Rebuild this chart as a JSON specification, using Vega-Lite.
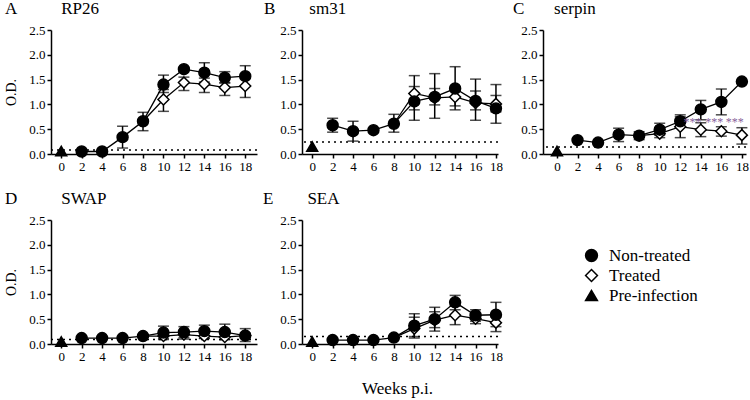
{
  "$schema": "https://vega.github.io/schema/vega-lite/v6.json",
  "padding": {"left": 4, "top": 0, "right": 5, "bottom": 3},
  "datasets": {
    "pts": [
      {"panel":"A","group":"Treated","week":8,"od":0.66},
      {"panel":"A","group":"Treated","week":10,"od":1.10,"lo":0.86,"hi":1.30},
      {"panel":"A","group":"Treated","week":12,"od":1.44,"lo":1.28,"hi":1.55},
      {"panel":"A","group":"Treated","week":14,"od":1.41,"lo":1.24,"hi":1.53},
      {"panel":"A","group":"Treated","week":16,"od":1.34,"lo":1.18,"hi":1.44},
      {"panel":"A","group":"Treated","week":18,"od":1.37,"lo":1.14,"hi":1.54},
      {"panel":"A","group":"Non-treated","week":2,"od":0.05},
      {"panel":"A","group":"Non-treated","week":4,"od":0.05},
      {"panel":"A","group":"Non-treated","week":6,"od":0.34,"lo":0.12,"hi":0.56},
      {"panel":"A","group":"Non-treated","week":8,"od":0.66,"lo":0.47,"hi":0.84},
      {"panel":"A","group":"Non-treated","week":10,"od":1.40,"lo":1.24,"hi":1.59},
      {"panel":"A","group":"Non-treated","week":12,"od":1.71},
      {"panel":"A","group":"Non-treated","week":14,"od":1.64,"lo":1.45,"hi":1.84},
      {"panel":"A","group":"Non-treated","week":16,"od":1.54,"lo":1.43,"hi":1.66},
      {"panel":"A","group":"Non-treated","week":18,"od":1.57,"lo":1.37,"hi":1.78},
      {"panel":"A","group":"Pre-infection","week":0,"od":0.06},

      {"panel":"B","group":"Treated","week":8,"od":0.61},
      {"panel":"B","group":"Treated","week":10,"od":1.22,"lo":0.89,"hi":1.58},
      {"panel":"B","group":"Treated","week":12,"od":1.13,"lo":0.99,"hi":1.32},
      {"panel":"B","group":"Treated","week":14,"od":1.15,"lo":0.97,"hi":1.32},
      {"panel":"B","group":"Treated","week":16,"od":1.03,"lo":0.89,"hi":1.27},
      {"panel":"B","group":"Treated","week":18,"od":1.01,"lo":0.85,"hi":1.18},
      {"panel":"B","group":"Non-treated","week":2,"od":0.58,"lo":0.44,"hi":0.72},
      {"panel":"B","group":"Non-treated","week":4,"od":0.46,"lo":0.26,"hi":0.66},
      {"panel":"B","group":"Non-treated","week":6,"od":0.48},
      {"panel":"B","group":"Non-treated","week":8,"od":0.61,"lo":0.44,"hi":0.80},
      {"panel":"B","group":"Non-treated","week":10,"od":1.06,"lo":0.68,"hi":1.36},
      {"panel":"B","group":"Non-treated","week":12,"od":1.15,"lo":0.72,"hi":1.62},
      {"panel":"B","group":"Non-treated","week":14,"od":1.32,"lo":0.89,"hi":1.76},
      {"panel":"B","group":"Non-treated","week":16,"od":1.07,"lo":0.68,"hi":1.51},
      {"panel":"B","group":"Non-treated","week":18,"od":0.92,"lo":0.62,"hi":1.40},
      {"panel":"B","group":"Pre-infection","week":0,"od":0.15},

      {"panel":"C","group":"Treated","week":8,"od":0.37},
      {"panel":"C","group":"Treated","week":10,"od":0.41,"lo":0.33,"hi":0.52},
      {"panel":"C","group":"Treated","week":12,"od":0.55,"lo":0.33,"hi":0.79},
      {"panel":"C","group":"Treated","week":14,"od":0.49,"lo":0.35,"hi":0.63},
      {"panel":"C","group":"Treated","week":16,"od":0.46,"lo":0.36,"hi":0.55},
      {"panel":"C","group":"Treated","week":18,"od":0.38,"lo":0.20,"hi":0.53},
      {"panel":"C","group":"Non-treated","week":2,"od":0.28},
      {"panel":"C","group":"Non-treated","week":4,"od":0.23},
      {"panel":"C","group":"Non-treated","week":6,"od":0.39,"lo":0.25,"hi":0.52},
      {"panel":"C","group":"Non-treated","week":8,"od":0.37,"lo":0.29,"hi":0.45},
      {"panel":"C","group":"Non-treated","week":10,"od":0.49,"lo":0.38,"hi":0.62},
      {"panel":"C","group":"Non-treated","week":12,"od":0.66,"lo":0.55,"hi":0.75},
      {"panel":"C","group":"Non-treated","week":14,"od":0.90,"lo":0.69,"hi":1.08},
      {"panel":"C","group":"Non-treated","week":16,"od":1.05,"lo":0.79,"hi":1.31},
      {"panel":"C","group":"Non-treated","week":18,"od":1.46},
      {"panel":"C","group":"Pre-infection","week":0,"od":0.06},

      {"panel":"D","group":"Treated","week":8,"od":0.16},
      {"panel":"D","group":"Treated","week":10,"od":0.16,"lo":0.11,"hi":0.22},
      {"panel":"D","group":"Treated","week":12,"od":0.19,"lo":0.13,"hi":0.25},
      {"panel":"D","group":"Treated","week":14,"od":0.16,"lo":0.11,"hi":0.22},
      {"panel":"D","group":"Treated","week":16,"od":0.14,"lo":0.09,"hi":0.20},
      {"panel":"D","group":"Treated","week":18,"od":0.17,"lo":0.12,"hi":0.22},
      {"panel":"D","group":"Non-treated","week":2,"od":0.12},
      {"panel":"D","group":"Non-treated","week":4,"od":0.12},
      {"panel":"D","group":"Non-treated","week":6,"od":0.12},
      {"panel":"D","group":"Non-treated","week":8,"od":0.16},
      {"panel":"D","group":"Non-treated","week":10,"od":0.23,"lo":0.09,"hi":0.36},
      {"panel":"D","group":"Non-treated","week":12,"od":0.24,"lo":0.10,"hi":0.35},
      {"panel":"D","group":"Non-treated","week":14,"od":0.26,"lo":0.12,"hi":0.38},
      {"panel":"D","group":"Non-treated","week":16,"od":0.24,"lo":0.09,"hi":0.40},
      {"panel":"D","group":"Non-treated","week":18,"od":0.17,"lo":0.05,"hi":0.31},
      {"panel":"D","group":"Pre-infection","week":0,"od":0.05},

      {"panel":"E","group":"Treated","week":8,"od":0.13},
      {"panel":"E","group":"Treated","week":10,"od":0.31,"lo":0.12,"hi":0.54},
      {"panel":"E","group":"Treated","week":12,"od":0.48,"lo":0.33,"hi":0.65},
      {"panel":"E","group":"Treated","week":14,"od":0.58,"lo":0.39,"hi":0.77},
      {"panel":"E","group":"Treated","week":16,"od":0.51,"lo":0.41,"hi":0.61},
      {"panel":"E","group":"Treated","week":18,"od":0.43,"lo":0.25,"hi":0.54},
      {"panel":"E","group":"Non-treated","week":2,"od":0.08},
      {"panel":"E","group":"Non-treated","week":4,"od":0.08},
      {"panel":"E","group":"Non-treated","week":6,"od":0.08},
      {"panel":"E","group":"Non-treated","week":8,"od":0.13},
      {"panel":"E","group":"Non-treated","week":10,"od":0.37,"lo":0.15,"hi":0.61},
      {"panel":"E","group":"Non-treated","week":12,"od":0.50,"lo":0.26,"hi":0.74},
      {"panel":"E","group":"Non-treated","week":14,"od":0.84,"lo":0.69,"hi":0.98},
      {"panel":"E","group":"Non-treated","week":16,"od":0.58,"lo":0.46,"hi":0.69},
      {"panel":"E","group":"Non-treated","week":18,"od":0.59,"lo":0.35,"hi":0.84},
      {"panel":"E","group":"Pre-infection","week":0,"od":0.05}
    ],
    "ref": [
      {"panel":"A","od":0.08},
      {"panel":"B","od":0.24},
      {"panel":"C","od":0.14},
      {"panel":"D","od":0.09},
      {"panel":"E","od":0.15}
    ],
    "stars": [
      {"week":13.2,"od":0.64,"label":"***"},
      {"week":15.3,"od":0.64,"label":"***"},
      {"week":17.3,"od":0.64,"label":"***"}
    ]
  },
  "title": {"text": "Weeks p.i.", "orient": "bottom", "anchor": "middle", "frame": "bounds", "dx": 20, "offset": 18, "fontSize": 17},
  "spacing": 17,
  "resolve": {"scale": {"shape": "shared", "fill": "shared", "stroke": "shared"}},
  "vconcat": [
    {
      "hconcat": [
        {
          "width": 206, "height": 124,
          "title": {"text": "A\u2003\u2003\u2002\u200aRP26", "dx": -46},
          "data": {"name": "pts"},
          "layer": [
            {"data": {"name": "ref"}, "transform": [{"filter": "datum.panel=='A'"}],
             "mark": {"type": "rule", "strokeDash": [2, 4], "strokeWidth": 1.5, "color": "black"},
             "encoding": {"y": {"field": "od", "type": "quantitative", "title": "O.D.", "scale": {"domain": [0, 2.5], "nice": false}, "axis": {"values": [0, 0.5, 1, 1.5, 2, 2.5], "tickCount": 6, "format": ".1f", "title": "O.D.", "labelOverlap": false}}}},
            {"transform": [{"filter": "datum.panel=='A' && datum.group!='Pre-infection'"}],
             "mark": {"type": "line", "color": "black", "strokeWidth": 1.3},
             "encoding": {"x": {"field": "week", "type": "quantitative", "scale": {"domain": [-1, 19.15], "nice": false, "zero": false}, "axis": {"values": [0, 2, 4, 6, 8, 10, 12, 14, 16, 18], "title": null, "labelOverlap": false}},
               "y": {"field": "od", "type": "quantitative", "title": "O.D.", "scale": {"domain": [0, 2.5], "nice": false}, "axis": {"values": [0, 0.5, 1, 1.5, 2, 2.5], "tickCount": 6, "format": ".1f", "title": "O.D.", "labelOverlap": false}}, "detail": {"field": "group"}}},
            {"transform": [{"filter": "datum.panel=='A' && isValid(datum.lo)"}],
             "mark": {"type": "errorbar", "ticks": true, "size": 11, "thickness": 1.5, "color": "black"},
             "encoding": {"x": {"field": "week", "type": "quantitative", "scale": {"domain": [-1, 19.15], "nice": false, "zero": false}, "axis": {"values": [0, 2, 4, 6, 8, 10, 12, 14, 16, 18], "title": null, "labelOverlap": false}},
               "y": {"field": "lo", "type": "quantitative", "title": "O.D.", "scale": {"domain": [0, 2.5], "nice": false}, "axis": {"values": [0, 0.5, 1, 1.5, 2, 2.5], "tickCount": 6, "format": ".1f", "title": "O.D.", "labelOverlap": false}}, "y2": {"field": "hi"}}},
            {"transform": [{"filter": "datum.panel=='A' && (datum.group!='Treated' || datum.week>=10)"}],
             "mark": {"type": "point", "filled": true, "strokeWidth": 1.5, "size": 120, "opacity": 1},
             "encoding": {"x": {"field": "week", "type": "quantitative", "scale": {"domain": [-1, 19.15], "nice": false, "zero": false}, "axis": {"values": [0, 2, 4, 6, 8, 10, 12, 14, 16, 18], "title": null, "labelOverlap": false}},
               "y": {"field": "od", "type": "quantitative", "title": "O.D.", "scale": {"domain": [0, 2.5], "nice": false}, "axis": {"values": [0, 0.5, 1, 1.5, 2, 2.5], "tickCount": 6, "format": ".1f", "title": "O.D.", "labelOverlap": false}},
               "shape": {"field": "group", "type": "nominal", "scale": {"domain": ["Non-treated", "Treated", "Pre-infection"], "range": ["circle", "diamond", "triangle-up"]}},
               "fill": {"field": "group", "type": "nominal", "scale": {"domain": ["Non-treated", "Treated", "Pre-infection"], "range": ["black", "white", "black"]}},
               "stroke": {"field": "group", "type": "nominal", "scale": {"domain": ["Non-treated", "Treated", "Pre-infection"], "range": ["black", "black", "black"]}}}}
          ]
        },
        {
          "width": 196, "height": 124,
          "title": {"text": "B\u2003\u2002\u00a0\u00a0sm31", "dx": -38},
          "data": {"name": "pts"},
          "layer": [
            {"data": {"name": "ref"}, "transform": [{"filter": "datum.panel=='B'"}],
             "mark": {"type": "rule", "strokeDash": [2, 4], "strokeWidth": 1.5, "color": "black"},
             "encoding": {"y": {"field": "od", "type": "quantitative", "title": null, "scale": {"domain": [0, 2.5], "nice": false}, "axis": {"values": [0, 0.5, 1, 1.5, 2, 2.5], "tickCount": 6, "format": ".1f", "title": null, "labelOverlap": false}}}},
            {"transform": [{"filter": "datum.panel=='B' && datum.group!='Pre-infection'"}],
             "mark": {"type": "line", "color": "black", "strokeWidth": 1.3},
             "encoding": {"x": {"field": "week", "type": "quantitative", "scale": {"domain": [-1, 18.2], "nice": false, "zero": false}, "axis": {"values": [0, 2, 4, 6, 8, 10, 12, 14, 16, 18], "title": null, "labelOverlap": false}},
               "y": {"field": "od", "type": "quantitative", "title": null, "scale": {"domain": [0, 2.5], "nice": false}, "axis": {"values": [0, 0.5, 1, 1.5, 2, 2.5], "tickCount": 6, "format": ".1f", "title": null, "labelOverlap": false}}, "detail": {"field": "group"}}},
            {"transform": [{"filter": "datum.panel=='B' && isValid(datum.lo)"}],
             "mark": {"type": "errorbar", "ticks": true, "size": 11, "thickness": 1.5, "color": "black"},
             "encoding": {"x": {"field": "week", "type": "quantitative", "scale": {"domain": [-1, 18.2], "nice": false, "zero": false}, "axis": {"values": [0, 2, 4, 6, 8, 10, 12, 14, 16, 18], "title": null, "labelOverlap": false}},
               "y": {"field": "lo", "type": "quantitative", "title": null, "scale": {"domain": [0, 2.5], "nice": false}, "axis": {"values": [0, 0.5, 1, 1.5, 2, 2.5], "tickCount": 6, "format": ".1f", "title": null, "labelOverlap": false}}, "y2": {"field": "hi"}}},
            {"transform": [{"filter": "datum.panel=='B' && (datum.group!='Treated' || datum.week>=10)"}],
             "mark": {"type": "point", "filled": true, "strokeWidth": 1.5, "size": 120, "opacity": 1},
             "encoding": {"x": {"field": "week", "type": "quantitative", "scale": {"domain": [-1, 18.2], "nice": false, "zero": false}, "axis": {"values": [0, 2, 4, 6, 8, 10, 12, 14, 16, 18], "title": null, "labelOverlap": false}},
               "y": {"field": "od", "type": "quantitative", "title": null, "scale": {"domain": [0, 2.5], "nice": false}, "axis": {"values": [0, 0.5, 1, 1.5, 2, 2.5], "tickCount": 6, "format": ".1f", "title": null, "labelOverlap": false}},
               "shape": {"field": "group", "type": "nominal"},
               "fill": {"field": "group", "type": "nominal"},
               "stroke": {"field": "group", "type": "nominal"}}}
          ]
        },
        {
          "width": 203, "height": 124,
          "title": {"text": "C\u2003\u2002\u00a0serpin", "dx": -30},
          "data": {"name": "pts"},
          "layer": [
            {"data": {"name": "ref"}, "transform": [{"filter": "datum.panel=='C'"}],
             "mark": {"type": "rule", "strokeDash": [2, 4], "strokeWidth": 1.5, "color": "black"},
             "encoding": {"y": {"field": "od", "type": "quantitative", "title": null, "scale": {"domain": [0, 2.5], "nice": false}, "axis": {"values": [0, 0.5, 1, 1.5, 2, 2.5], "tickCount": 6, "format": ".1f", "title": null, "labelOverlap": false}}}},
            {"transform": [{"filter": "datum.panel=='C' && datum.group!='Pre-infection'"}],
             "mark": {"type": "line", "color": "black", "strokeWidth": 1.3},
             "encoding": {"x": {"field": "week", "type": "quantitative", "scale": {"domain": [-1.36, 18.4], "nice": false, "zero": false}, "axis": {"values": [0, 2, 4, 6, 8, 10, 12, 14, 16, 18], "title": null, "labelOverlap": false}},
               "y": {"field": "od", "type": "quantitative", "title": null, "scale": {"domain": [0, 2.5], "nice": false}, "axis": {"values": [0, 0.5, 1, 1.5, 2, 2.5], "tickCount": 6, "format": ".1f", "title": null, "labelOverlap": false}}, "detail": {"field": "group"}}},
            {"transform": [{"filter": "datum.panel=='C' && isValid(datum.lo)"}],
             "mark": {"type": "errorbar", "ticks": true, "size": 11, "thickness": 1.5, "color": "black"},
             "encoding": {"x": {"field": "week", "type": "quantitative", "scale": {"domain": [-1.36, 18.4], "nice": false, "zero": false}, "axis": {"values": [0, 2, 4, 6, 8, 10, 12, 14, 16, 18], "title": null, "labelOverlap": false}},
               "y": {"field": "lo", "type": "quantitative", "title": null, "scale": {"domain": [0, 2.5], "nice": false}, "axis": {"values": [0, 0.5, 1, 1.5, 2, 2.5], "tickCount": 6, "format": ".1f", "title": null, "labelOverlap": false}}, "y2": {"field": "hi"}}},
            {"transform": [{"filter": "datum.panel=='C' && (datum.group!='Treated' || datum.week>=10)"}],
             "mark": {"type": "point", "filled": true, "strokeWidth": 1.5, "size": 120, "opacity": 1},
             "encoding": {"x": {"field": "week", "type": "quantitative", "scale": {"domain": [-1.36, 18.4], "nice": false, "zero": false}, "axis": {"values": [0, 2, 4, 6, 8, 10, 12, 14, 16, 18], "title": null, "labelOverlap": false}},
               "y": {"field": "od", "type": "quantitative", "title": null, "scale": {"domain": [0, 2.5], "nice": false}, "axis": {"values": [0, 0.5, 1, 1.5, 2, 2.5], "tickCount": 6, "format": ".1f", "title": null, "labelOverlap": false}},
               "shape": {"field": "group", "type": "nominal"},
               "fill": {"field": "group", "type": "nominal"},
               "stroke": {"field": "group", "type": "nominal"}}},
            {"data": {"name": "stars"},
             "mark": {"type": "text", "color": "#86609a", "fontSize": 12, "baseline": "middle"},
             "encoding": {"x": {"field": "week", "type": "quantitative", "scale": {"domain": [-1.36, 18.4], "nice": false, "zero": false}, "axis": {"values": [0, 2, 4, 6, 8, 10, 12, 14, 16, 18], "title": null, "labelOverlap": false}},
               "y": {"field": "od", "type": "quantitative", "title": null, "scale": {"domain": [0, 2.5], "nice": false}, "axis": {"values": [0, 0.5, 1, 1.5, 2, 2.5], "tickCount": 6, "format": ".1f", "title": null, "labelOverlap": false}}, "text": {"field": "label"}}}
          ]
        }
      ],
      "spacing": 45,
      "bounds": "flush"
    },
    {
      "hconcat": [
        {
          "width": 206, "height": 124,
          "title": {"text": "D\u2003\u2003\u2002\u200aSWAP", "dx": -46},
          "data": {"name": "pts"},
          "layer": [
            {"data": {"name": "ref"}, "transform": [{"filter": "datum.panel=='D'"}],
             "mark": {"type": "rule", "strokeDash": [2, 4], "strokeWidth": 1.5, "color": "black"},
             "encoding": {"y": {"field": "od", "type": "quantitative", "title": "O.D.", "scale": {"domain": [0, 2.5], "nice": false}, "axis": {"values": [0, 0.5, 1, 1.5, 2, 2.5], "tickCount": 6, "format": ".1f", "title": "O.D.", "labelOverlap": false}}}},
            {"transform": [{"filter": "datum.panel=='D' && datum.group!='Pre-infection'"}],
             "mark": {"type": "line", "color": "black", "strokeWidth": 1.3},
             "encoding": {"x": {"field": "week", "type": "quantitative", "scale": {"domain": [-1, 19.15], "nice": false, "zero": false}, "axis": {"values": [0, 2, 4, 6, 8, 10, 12, 14, 16, 18], "title": null, "labelOverlap": false}},
               "y": {"field": "od", "type": "quantitative", "title": "O.D.", "scale": {"domain": [0, 2.5], "nice": false}, "axis": {"values": [0, 0.5, 1, 1.5, 2, 2.5], "tickCount": 6, "format": ".1f", "title": "O.D.", "labelOverlap": false}}, "detail": {"field": "group"}}},
            {"transform": [{"filter": "datum.panel=='D' && isValid(datum.lo)"}],
             "mark": {"type": "errorbar", "ticks": true, "size": 11, "thickness": 1.5, "color": "black"},
             "encoding": {"x": {"field": "week", "type": "quantitative", "scale": {"domain": [-1, 19.15], "nice": false, "zero": false}, "axis": {"values": [0, 2, 4, 6, 8, 10, 12, 14, 16, 18], "title": null, "labelOverlap": false}},
               "y": {"field": "lo", "type": "quantitative", "title": "O.D.", "scale": {"domain": [0, 2.5], "nice": false}, "axis": {"values": [0, 0.5, 1, 1.5, 2, 2.5], "tickCount": 6, "format": ".1f", "title": "O.D.", "labelOverlap": false}}, "y2": {"field": "hi"}}},
            {"transform": [{"filter": "datum.panel=='D' && (datum.group!='Treated' || datum.week>=10)"}],
             "mark": {"type": "point", "filled": true, "strokeWidth": 1.5, "size": 120, "opacity": 1},
             "encoding": {"x": {"field": "week", "type": "quantitative", "scale": {"domain": [-1, 19.15], "nice": false, "zero": false}, "axis": {"values": [0, 2, 4, 6, 8, 10, 12, 14, 16, 18], "title": null, "labelOverlap": false}},
               "y": {"field": "od", "type": "quantitative", "title": "O.D.", "scale": {"domain": [0, 2.5], "nice": false}, "axis": {"values": [0, 0.5, 1, 1.5, 2, 2.5], "tickCount": 6, "format": ".1f", "title": "O.D.", "labelOverlap": false}},
               "shape": {"field": "group", "type": "nominal"},
               "fill": {"field": "group", "type": "nominal"},
               "stroke": {"field": "group", "type": "nominal"}}}
          ]
        },
        {
          "width": 196, "height": 124,
          "title": {"text": "E\u2003\u2002\u00a0\u00a0SEA", "dx": -39},
          "data": {"name": "pts"},
          "layer": [
            {"data": {"name": "ref"}, "transform": [{"filter": "datum.panel=='E'"}],
             "mark": {"type": "rule", "strokeDash": [2, 4], "strokeWidth": 1.5, "color": "black"},
             "encoding": {"y": {"field": "od", "type": "quantitative", "title": null, "scale": {"domain": [0, 2.5], "nice": false}, "axis": {"values": [0, 0.5, 1, 1.5, 2, 2.5], "tickCount": 6, "format": ".1f", "title": null, "labelOverlap": false}}}},
            {"transform": [{"filter": "datum.panel=='E' && datum.group!='Pre-infection'"}],
             "mark": {"type": "line", "color": "black", "strokeWidth": 1.3},
             "encoding": {"x": {"field": "week", "type": "quantitative", "scale": {"domain": [-1, 18.2], "nice": false, "zero": false}, "axis": {"values": [0, 2, 4, 6, 8, 10, 12, 14, 16, 18], "title": null, "labelOverlap": false}},
               "y": {"field": "od", "type": "quantitative", "title": null, "scale": {"domain": [0, 2.5], "nice": false}, "axis": {"values": [0, 0.5, 1, 1.5, 2, 2.5], "tickCount": 6, "format": ".1f", "title": null, "labelOverlap": false}}, "detail": {"field": "group"}}},
            {"transform": [{"filter": "datum.panel=='E' && isValid(datum.lo)"}],
             "mark": {"type": "errorbar", "ticks": true, "size": 11, "thickness": 1.5, "color": "black"},
             "encoding": {"x": {"field": "week", "type": "quantitative", "scale": {"domain": [-1, 18.2], "nice": false, "zero": false}, "axis": {"values": [0, 2, 4, 6, 8, 10, 12, 14, 16, 18], "title": null, "labelOverlap": false}},
               "y": {"field": "lo", "type": "quantitative", "title": null, "scale": {"domain": [0, 2.5], "nice": false}, "axis": {"values": [0, 0.5, 1, 1.5, 2, 2.5], "tickCount": 6, "format": ".1f", "title": null, "labelOverlap": false}}, "y2": {"field": "hi"}}},
            {"transform": [{"filter": "datum.panel=='E' && (datum.group!='Treated' || datum.week>=10)"}],
             "mark": {"type": "point", "filled": true, "strokeWidth": 1.5, "size": 120, "opacity": 1},
             "encoding": {"x": {"field": "week", "type": "quantitative", "scale": {"domain": [-1, 18.2], "nice": false, "zero": false}, "axis": {"values": [0, 2, 4, 6, 8, 10, 12, 14, 16, 18], "title": null, "labelOverlap": false}},
               "y": {"field": "od", "type": "quantitative", "title": null, "scale": {"domain": [0, 2.5], "nice": false}, "axis": {"values": [0, 0.5, 1, 1.5, 2, 2.5], "tickCount": 6, "format": ".1f", "title": null, "labelOverlap": false}},
               "shape": {"field": "group", "type": "nominal"},
               "fill": {"field": "group", "type": "nominal"},
               "stroke": {"field": "group", "type": "nominal"}}}
          ]
        }
      ],
      "spacing": 45,
      "bounds": "flush"
    }
  ],
  "config": {
    "view": {"stroke": null},
    "font": "Liberation Serif, Times New Roman, serif",
    "text": {"font": "Liberation Serif, Times New Roman, serif"},
    "axis": {"labelFont": "Liberation Serif, Times New Roman, serif", "labelFontSize": 13, "labelColor": "black", "labelOverlap": false, "titleFont": "Liberation Serif, Times New Roman, serif", "titleFontSize": 14, "titleFontWeight": "normal", "titleColor": "black", "domainColor": "black", "domainWidth": 1.5, "tickColor": "black", "tickWidth": 1.5, "tickSize": 4, "grid": false, "labelPadding": 2, "titlePadding": 10},
    "axisX": {"tickCount": 10, "labelOverlap": false},
    "axisY": {"tickCount": 6, "labelOverlap": false},
    "title": {"font": "Liberation Serif, Times New Roman, serif", "fontSize": 17, "fontWeight": "normal", "color": "black", "anchor": "start", "frame": "group", "offset": 6},
    "legend": {"orient": "none", "legendX": 532, "legendY": 217, "title": null, "labelFont": "Liberation Serif, Times New Roman, serif", "labelFontSize": 17, "labelColor": "black", "symbolSize": 140, "symbolStrokeColor": "black", "symbolStrokeWidth": 1.5, "rowPadding": 1, "labelOffset": 9}
  }
}
